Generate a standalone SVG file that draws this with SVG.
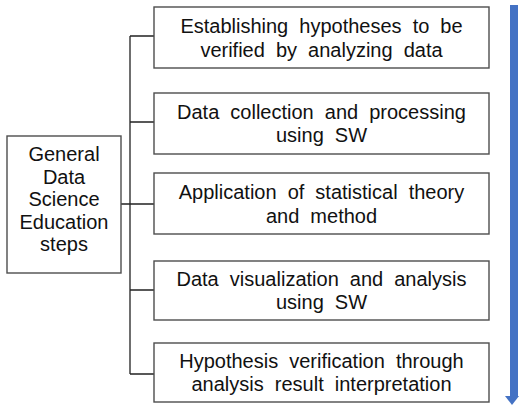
<svg xmlns="http://www.w3.org/2000/svg" width="520" height="407" viewBox="0 0 520 407">
<style>
.box{fill:#fff;stroke:#4d4d4d;stroke-width:1.4}
.t{font-family:"Liberation Sans",Arial,sans-serif;font-size:20px;word-spacing:5.5px;fill:#111;text-anchor:middle}
.c{fill:none;stroke:#222;stroke-width:1.3}
</style>
<rect width="520" height="407" fill="#fff"/>
<g id="connectors">
<path class="c" d="M130 36V374M130 36H154M130 122H154M130 204H154M130 290H154M130 374H154M121 204H130"/>
</g>
<g id="arrow">
<rect x="510" y="5" width="8" height="392" fill="#4472C4"/>
<path d="M505 396H519L512 405Z" fill="#4472C4"/>
</g>
<g id="root">
<rect class="box" x="7" y="136" width="114" height="137"/>
<text class="t" x="64" y="161"><tspan x="64">General</tspan><tspan x="64" dy="22.5">Data</tspan><tspan x="64" dy="22.5">Science</tspan><tspan x="64" dy="22.5">Education</tspan><tspan x="64" dy="22.5">steps</tspan></text>
</g>
<g id="step1">
<rect class="box" x="154" y="7" width="335" height="61"/>
<text class="t" x="321.5" y="32.5"><tspan x="321.5">Establishing hypotheses to be</tspan><tspan x="321.5" dy="24">verified by analyzing data</tspan></text>
</g>
<g id="step2">
<rect class="box" x="154" y="93" width="335" height="61"/>
<text class="t" x="321.5" y="118.5"><tspan x="321.5">Data collection and processing</tspan><tspan x="321.5" dy="23.5">using SW</tspan></text>
</g>
<g id="step3">
<rect class="box" x="154" y="173" width="335" height="61"/>
<text class="t" x="321.5" y="198.5"><tspan x="321.5">Application of statistical theory</tspan><tspan x="321.5" dy="24">and method</tspan></text>
</g>
<g id="step4">
<rect class="box" x="154" y="261" width="335" height="59"/>
<text class="t" x="321.5" y="286"><tspan x="321.5">Data visualization and analysis</tspan><tspan x="321.5" dy="23">using SW</tspan></text>
</g>
<g id="step5">
<rect class="box" x="154" y="343" width="335" height="59"/>
<text class="t" x="321.5" y="368"><tspan x="321.5">Hypothesis verification through</tspan><tspan x="321.5" dy="23">analysis result interpretation</tspan></text>
</g>
</svg>
